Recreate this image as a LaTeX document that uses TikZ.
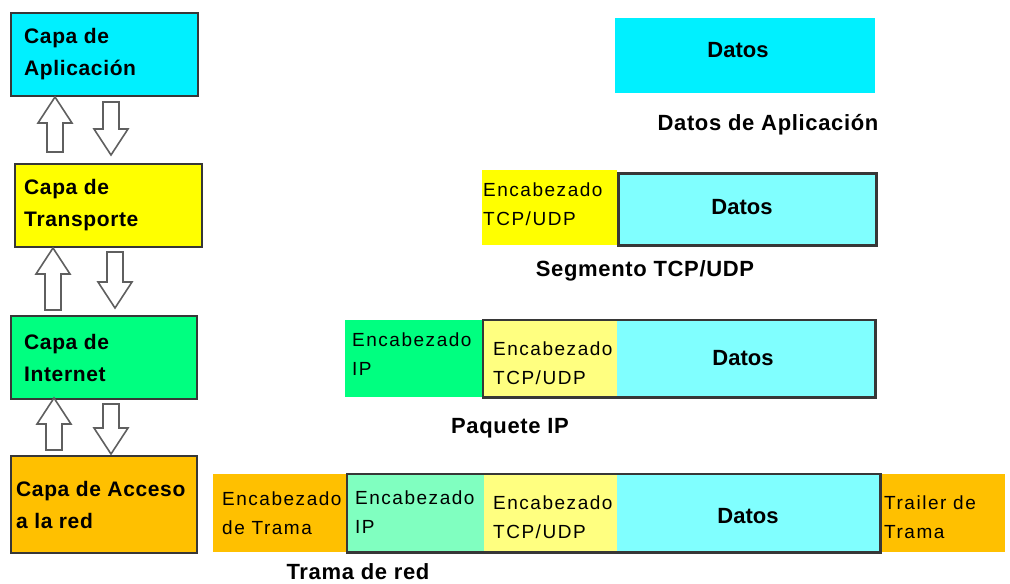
\documentclass[tikz,border=0pt]{standalone}
\usepackage{fontspec}
\setmainfont{Liberation Sans}
\newfontfamily\hdrfont[LetterSpace=8]{Liberation Sans}
\newfontfamily\boldfont[LetterSpace=3]{Liberation Sans}
\definecolor{edge}{RGB}{55,55,55}
\definecolor{appcyan}{RGB}{0,240,255}
\definecolor{trpyellow}{RGB}{255,255,0}
\definecolor{netgreen}{RGB}{0,255,128}
\definecolor{accorange}{RGB}{255,192,0}
\definecolor{datacyan}{RGB}{128,255,255}
\definecolor{paleyellow}{RGB}{255,255,128}
\definecolor{palegreen}{RGB}{128,255,192}
\newcommand\blockup[3]{% centre x, tip y, bottom y
  \draw[blockarrow] (#1,#2) -- (#1+17,#2+26) -- (#1+8,#2+26) -- (#1+8,#3)
    -- (#1-8,#3) -- (#1-8,#2+26) -- (#1-17,#2+26) -- cycle;}
\newcommand\blockdown[3]{% centre x, top y, tip y
  \draw[blockarrow] (#1,#3) -- (#1+17,#3-26) -- (#1+8,#3-26) -- (#1+8,#2)
    -- (#1-8,#2) -- (#1-8,#3-26) -- (#1-17,#3-26) -- cycle;}
\tikzset{
  layer/.style={draw=edge, line width=2pt, anchor=north west, inner sep=0pt},
  field/.style={anchor=north west, inner sep=0pt},
  framed/.style={draw=edge, line width=2.5pt},
  layertext/.style={anchor=west, inner sep=0pt, align=left,
    font=\boldfont\bfseries\fontsize{21}{32}\selectfont},
  hdrtext/.style={anchor=west, inner sep=0pt, align=left,
    font=\hdrfont\fontsize{19}{29}\selectfont},
  datatext/.style={inner sep=0pt, font=\bfseries\fontsize{22}{24}\selectfont},
  caption/.style={inner sep=0pt, font=\boldfont\bfseries\fontsize{22}{24}\selectfont},
  blockarrow/.style={draw=edge!80, fill=white, line width=1.6pt, line join=miter}
}
\begin{document}
\begin{tikzpicture}[x=1pt,y=-1pt]
\useasboundingbox (0,0) rectangle (1010,584);

% ---- protocol layers ----
\node (app) [layer, fill=appcyan, minimum width=187, minimum height=83] at (10,12) {};
\node (trp) [layer, fill=trpyellow, minimum width=187, minimum height=83] at (14,163) {};
\node (net) [layer, fill=netgreen, minimum width=186, minimum height=83] at (10,315) {};
\node (acc) [layer, fill=accorange, minimum width=186, minimum height=97] at (10,455) {};

\node (appt) [layertext] at ([xshift=14pt]app.west) {Capa de\\Aplicación};
\node (trpt) [layertext] at ([xshift=10pt]trp.west) {Capa de\\Transporte};
\node (nett) [layertext] at ([xshift=14pt]net.west) {Capa de\\Internet};
\node (acct) [layertext] at ([xshift=6pt]acc.west) {Capa de Acceso\\a la red};

% ---- up / down block arrows between layers ----
\blockup{55}{97}{152}
\blockdown{111}{102}{155}
\blockup{53}{248}{310}
\blockdown{115}{252}{308}
\blockup{54}{398}{450}
\blockdown{111}{404}{454}

% ---- application data ----
\node (d1) [field, fill=appcyan, minimum width=260, minimum height=75] at (615,18) {};
\node (d1t) [datatext] at (738,50) {Datos};
\node (c1) [caption] at (768,125) {Datos de Aplicación};

% ---- TCP/UDP segment ----
\node (s2h) [field, fill=trpyellow, minimum width=135, minimum height=75] at (482,170) {};
\node (s2d) [field, framed, fill=datacyan, minimum width=258, minimum height=72] at (617,172) {};
\node (s2ht) [hdrtext] at (483,204) {Encabezado\\TCP/UDP};
\node (s2dt) [datatext] at (742,207) {Datos};
\node (c2) [caption] at (645,271) {Segmento TCP/UDP};

% ---- IP packet ----
\node (p3h) [field, fill=netgreen, minimum width=138, minimum height=77] at (345,320) {};
\node (p3t) [field, fill=paleyellow, minimum width=134, minimum height=77] at (483,320) {};
\node (p3d) [field, fill=datacyan, minimum width=258, minimum height=77] at (617,320) {};
\draw[framed] (p3t.north west) rectangle (p3d.south east);
\node (p3ht) [hdrtext] at (352,354) {Encabezado\\IP};
\node (p3tt) [hdrtext] at (493,363) {Encabezado\\TCP/UDP};
\node (p3dt) [datatext] at (743,358) {Datos};
\node (c3) [caption] at (510,428) {Paquete IP};

% ---- network frame ----
\node (f4h) [field, fill=accorange, minimum width=134, minimum height=78] at (213,474) {};
\node (f4i) [field, fill=palegreen, minimum width=137, minimum height=78] at (347,474) {};
\node (f4t) [field, fill=paleyellow, minimum width=133, minimum height=78] at (484,474) {};
\node (f4d) [field, fill=datacyan, minimum width=263, minimum height=78] at (617,474) {};
\node (f4r) [field, fill=accorange, minimum width=125, minimum height=78] at (880,474) {};
\draw[framed] (f4i.north west) rectangle (f4d.south east);
\node (f4ht) [hdrtext] at (222,513) {Encabezado\\de Trama};
\node (f4it) [hdrtext] at (355,512) {Encabezado\\IP};
\node (f4tt) [hdrtext] at (493,517) {Encabezado\\TCP/UDP};
\node (f4dt) [datatext] at (748,516) {Datos};
\node (f4rt) [hdrtext] at (884,517) {Trailer de\\Trama};
\node (c4) [caption] at (358,572) {Trama de red};
\end{tikzpicture}
\end{document}
